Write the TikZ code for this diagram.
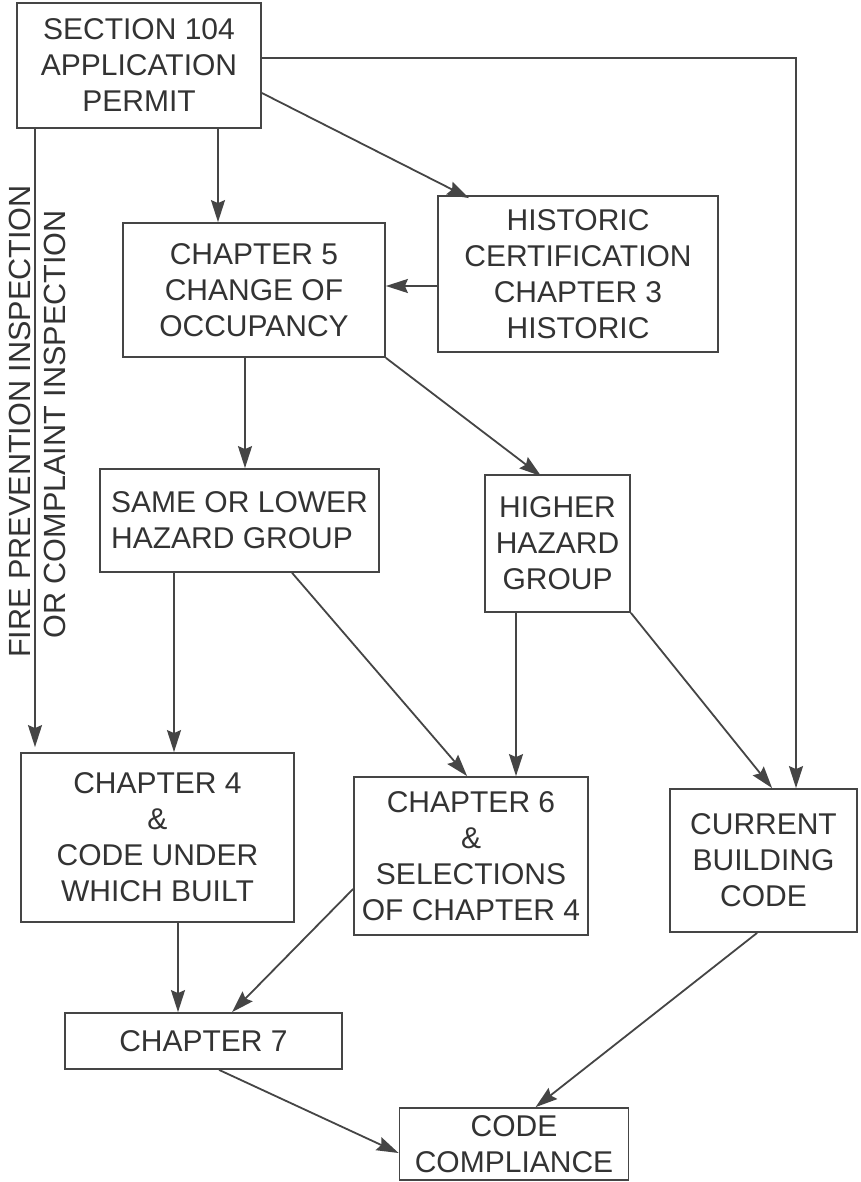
\documentclass[tikz,border=0pt]{standalone}
\usepackage{fontspec}
\setmainfont{Liberation Sans}
\usetikzlibrary{arrows.meta}
\definecolor{ink}{HTML}{454545}
\definecolor{txt}{HTML}{333333}
\begin{document}
\begin{tikzpicture}[x=1pt,y=-1pt,
 box/.style={draw=ink, line width=1.8pt, inner sep=0pt, align=center, text=txt, font=\fontsize{30}{36}\selectfont},
 arr/.style={draw=ink, line width=1.8pt, -{Stealth[length=22pt,width=14pt,inset=3pt]}},
 vlabel/.style={rotate=90, text=txt, inner sep=0pt, font=\fontsize{30.6}{36}\selectfont}]
\useasboundingbox[fill=white] (0,0) rectangle (860,1182);

% boxes
\node[box, minimum width=244pt, minimum height=125pt] (sec) at (139,65.5) {SECTION 104\\APPLICATION\\PERMIT};
\node[box, minimum width=262pt, minimum height=134pt] (ch5) at (254,290) {CHAPTER 5\\CHANGE OF\\OCCUPANCY};
\node[box, minimum width=280pt, minimum height=156pt] (hist) at (578,274) {HISTORIC\\CERTIFICATION\\CHAPTER 3\\HISTORIC};
\node[box, align=left, minimum width=279pt, minimum height=103pt] (same) at (239.5,520.5) {SAME OR LOWER\\HAZARD GROUP};
\node[box, minimum width=145pt, minimum height=137pt] (higher) at (557.5,543.5) {HIGHER\\HAZARD\\GROUP};
\node[box, minimum width=273pt, minimum height=169pt] (ch4) at (157.5,837.5) {CHAPTER 4\\\&\\CODE UNDER\\WHICH BUILT};
\node[box, minimum width=234pt, minimum height=158pt] (ch6) at (471,856) {CHAPTER 6\\\&\\SELECTIONS\\OF CHAPTER 4};
\node[box, minimum width=187pt, minimum height=143pt] (cur) at (763.5,860.5) {CURRENT\\BUILDING\\CODE};
\node[box, minimum width=277pt, minimum height=56pt] (ch7) at (203.5,1041) {CHAPTER 7};
\node[box, minimum width=229pt, minimum height=72pt] (cc) at (514,1144) {CODE\\COMPLIANCE};

% vertical labels
\node[vlabel] (fire) at (19.5,421.5) {FIRE PREVENTION INSPECTION};
\node[vlabel] (compl) at (55,424.5) {OR COMPLAINT INSPECTION};

% column coordinates
\coordinate (xfire) at (35,0);
\coordinate (xch5) at (218,0);
\coordinate (xsame) at (245,0);
\coordinate (xch4) at (174,0);
\coordinate (xhigh) at (516,0);
\coordinate (xright) at (796,0);
\coordinate (xch7) at (178,0);

% connectors
\draw[arr, shorten >=5pt] (sec.south -| xfire) -- (ch4.north -| xfire);
\draw[arr] (sec.south -| xch5) -- (ch5.north -| xch5);
\draw[arr] ([yshift=-27.5pt]sec.east) -- ([xshift=32pt,yshift=-3pt]hist.north west);
\draw[arr] ([yshift=7.5pt]sec.east) -| (cur.north -| xright);
\draw[arr] ([yshift=-12pt]hist.west) -- ([yshift=-12pt]hist.west -| ch5.east);
\draw[arr] (ch5.south -| xsame) -- (same.north -| xsame);
\draw[arr] (ch5.south east) -- ([xshift=57pt,yshift=-2pt]higher.north west);
\draw[arr] (same.south -| xch4) -- (ch4.north -| xch4);
\draw[arr] ([xshift=193pt]same.south west) -- ([xshift=114pt]ch6.north west);
\draw[arr] (higher.south -| xhigh) -- (ch6.north -| xhigh);
\draw[arr] (higher.south east) -- ([xshift=103pt]cur.north west);
\draw[arr] (ch4.south -| xch7) -- (ch7.north -| xch7);
\draw[arr] ([yshift=-33pt]ch6.west) -- ([xshift=168pt]ch7.north west);
\draw[arr] ([xshift=155pt]ch7.south west) -- ([yshift=-9pt]cc.west);
\draw[arr] ([xshift=88pt]cur.south west) -- ([xshift=137pt]cc.north west);
\end{tikzpicture}
\end{document}
